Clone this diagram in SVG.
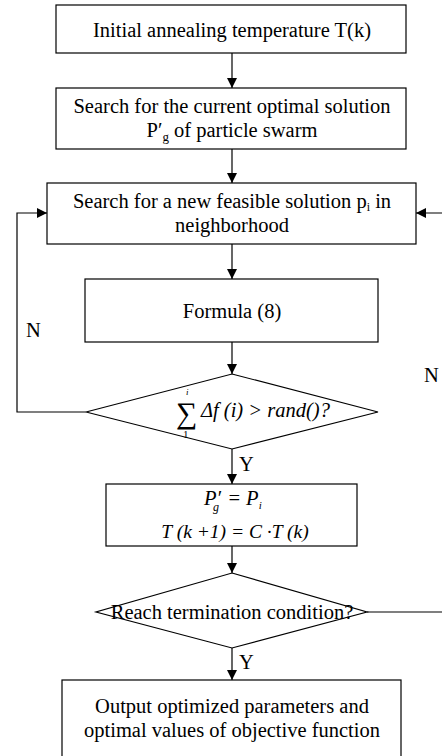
<svg xmlns="http://www.w3.org/2000/svg" width="442" height="756" viewBox="0 0 442 756" font-family="'Liberation Serif', 'DejaVu Serif', Times, serif">
  <defs>
    <marker id="arrow" viewBox="0 0 10 10" refX="10" refY="5" markerWidth="10" markerHeight="10" markerUnits="userSpaceOnUse" orient="auto">
      <path d="M0,0 L10,5 L0,10 z" fill="#000"/>
    </marker>
  </defs>
  <style>
    .box { fill: #fff; stroke: #000; stroke-width: 1.2; }
    .line { fill: none; stroke: #000; stroke-width: 1.2; }
    text { font-family: 'Liberation Serif', 'DejaVu Serif', Times, serif; font-size: 20.5px; fill: #000; }
    .c { text-anchor: middle; }
    .m { font-style: italic; }
  </style>

  <!-- connectors -->
  <g id="connectors">
    <path class="line" d="M232,53 V88" marker-end="url(#arrow)"/>
    <path class="line" d="M232,149 V183" marker-end="url(#arrow)"/>
    <path class="line" d="M232,244 V279" marker-end="url(#arrow)"/>
    <path class="line" d="M232,342 V374" marker-end="url(#arrow)"/>
    <path class="line" d="M86,412 H17 V213 H47" marker-end="url(#arrow)"/>
    <path class="line" d="M232,449 V484" marker-end="url(#arrow)"/>
    <path class="line" d="M232,546 V573" marker-end="url(#arrow)"/>
    <path class="line" d="M367,612 H445 V213 H416" marker-end="url(#arrow)"/>
    <path class="line" d="M232,648 V680" marker-end="url(#arrow)"/>
    <text x="26" y="337">N</text>
    <text x="424" y="382">N</text>
    <text x="239" y="471">Y</text>
    <text x="239" y="669">Y</text>
  </g>

  <g id="init">
    <rect class="box" x="56" y="5" width="350" height="48"/>
    <text class="c" x="232" y="37">Initial annealing temperature T(k)</text>
  </g>

  <g id="pso-best">
    <rect class="box" x="56" y="88" width="350" height="61"/>
    <text class="c" x="232" y="113">Search for the current optimal solution</text>
    <text class="c" x="232" y="137">P′<tspan style="font-size:13px" dy="4">g</tspan><tspan dy="-4"> of particle swarm</tspan></text>
  </g>

  <g id="neighbor">
    <rect class="box" x="47" y="183" width="369" height="61"/>
    <text class="c" x="232" y="208">Search for a new feasible solution p<tspan style="font-size:12px" dy="3">i</tspan><tspan dy="-3"> in</tspan></text>
    <text class="c" x="232" y="232">neighborhood</text>
  </g>

  <g id="formula">
    <rect class="box" x="85" y="279" width="293" height="63"/>
    <text class="c" x="232" y="318">Formula (8)</text>
  </g>

  <g id="accept">
    <polygon class="box" points="232,374 378,412 232,449 86,412"/>
    <text x="176" y="423" style="font-size:30px">∑</text>
    <text class="m" x="186" y="395" style="font-size:9px">i</text>
    <text x="183" y="438" style="font-size:11px">1</text>
    <text class="m" x="201" y="417">Δf (i) &gt; rand()?</text>
  </g>

  <g id="update">
    <rect class="box" x="106" y="484" width="251" height="62"/>
    <text class="m" x="204" y="505">P′<tspan style="font-size:12px" dx="-8" dy="6">g</tspan><tspan dy="-6" dx="3"> = P</tspan><tspan style="font-size:11px" dy="4">i</tspan></text>
    <text class="m c" x="235" y="538" style="font-size:19.5px">T (k +1) = C ·T (k)</text>
  </g>

  <g id="termination">
    <polygon class="box" points="232,573 367,612 232,648 96,612"/>
    <text class="c" x="232" y="619">Reach termination condition?</text>
  </g>

  <g id="output">
    <rect class="box" x="62" y="680" width="339" height="80"/>
    <text class="c" x="232" y="713">Output optimized parameters and</text>
    <text class="c" x="232" y="737">optimal values of objective function</text>
  </g>
</svg>
